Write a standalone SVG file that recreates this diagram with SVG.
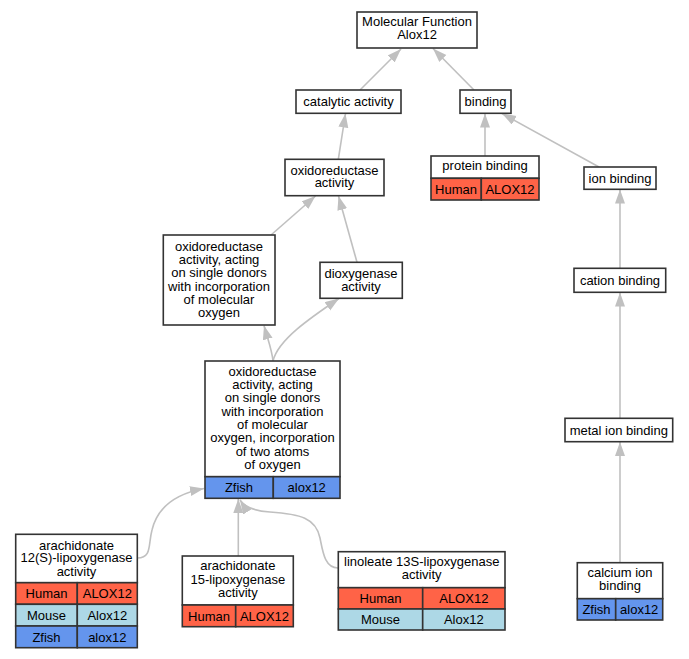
<svg xmlns="http://www.w3.org/2000/svg" width="689" height="659" viewBox="0 0 689 659">
<style>
text{font-family:"Liberation Sans",Arial,sans-serif;font-size:13px;fill:#000;text-anchor:middle}
.b{fill:#fff;stroke:#333;stroke-width:1.6}
.h{fill:#ff6347;stroke:#333;stroke-width:1.6}
.m{fill:#add8e6;stroke:#333;stroke-width:1.6}
.z{fill:#6495ed;stroke:#333;stroke-width:1.6}
.e{fill:none;stroke:#c0c0c0;stroke-width:1.6;marker-end:url(#ah)}
</style>
<defs>
<marker id="ah" markerUnits="userSpaceOnUse" markerWidth="15" markerHeight="11" refX="14" refY="5" orient="auto" viewBox="0 0 15 11">
<path d="M0,0 L14,5 L0,10 z" fill="#c0c0c0"/>
</marker>
</defs>
<rect width="689" height="659" fill="#fff"/>
<g id="edges">
<path class="e" d="M360,90 L401,49"/>
<path class="e" d="M474,90 L433,48.5"/>
<path class="e" d="M338.3,159.3 L345.5,113.5"/>
<path class="e" d="M485,156 L485,113.5"/>
<path class="e" d="M599,167 L502,113.5"/>
<path class="e" d="M620,268 L620,189.5"/>
<path class="e" d="M620,418 L620,292.5"/>
<path class="e" d="M620,562.7 L620,442"/>
<path class="e" d="M271,235 L315.5,196"/>
<path class="e" d="M357,262.3 L338.5,196"/>
<path class="e" d="M273,361 C272,350 268,340 264,325.5"/>
<path class="e" d="M273,361 C278,340 310,318 339,298.5"/>
<path class="e" d="M137.5,558 C152,558 148,545 152,530 C158,505 180,493 204,488.5"/>
<path class="e" d="M238.3,556 L238.3,499"/>
<path class="e" d="M338,568 C325,568 323,553 320,538 C316,518 300,514 270,512 C255,511 245,508 240,500"/>
</g>
<g id="mf">
<rect class="b" x="357" y="12" width="120" height="36"/>
<text x="417" y="26">Molecular Function</text>
<text x="417" y="39">Alox12</text>
</g>
<g id="catalytic">
<rect class="b" x="296" y="90" width="105" height="23.3"/>
<text x="348.5" y="106">catalytic activity</text>
</g>
<g id="binding">
<rect class="b" x="460" y="90" width="51" height="23.3"/>
<text x="485.5" y="106">binding</text>
</g>
<g id="protein">
<rect class="b" x="431" y="156" width="108" height="22.3"/>
<text x="485" y="170">protein binding</text>
<rect class="h" x="431" y="178.3" width="50.3" height="21.7"/>
<rect class="h" x="481.3" y="178.3" width="57.7" height="21.7"/>
<text x="456" y="193.5">Human</text>
<text x="510" y="193.5">ALOX12</text>
</g>
<g id="ion">
<rect class="b" x="584" y="167" width="72" height="22.3"/>
<text x="620" y="182.5">ion binding</text>
</g>
<g id="oxidoreductase">
<rect class="b" x="285" y="159.3" width="99" height="36.4"/>
<text x="334.5" y="174.5">oxidoreductase</text>
<text x="334.5" y="187">activity</text>
</g>
<g id="acting">
<rect class="b" x="163.3" y="235" width="111.7" height="90"/>
<text x="219" y="250.5">oxidoreductase</text>
<text x="219" y="264">activity, acting</text>
<text x="219" y="277">on single donors</text>
<text x="219" y="290.5">with incorporation</text>
<text x="219" y="304">of molecular</text>
<text x="219" y="317">oxygen</text>
</g>
<g id="dioxygenase">
<rect class="b" x="320" y="262.3" width="82.3" height="36"/>
<text x="361" y="278">dioxygenase</text>
<text x="361" y="290.5">activity</text>
</g>
<g id="cation">
<rect class="b" x="574" y="268.3" width="91.7" height="24"/>
<text x="620" y="284.5">cation binding</text>
</g>
<g id="metal">
<rect class="b" x="565" y="418.3" width="107.7" height="23.4"/>
<text x="618.8" y="434.5">metal ion binding</text>
</g>
<g id="twoatoms">
<rect class="b" x="205" y="361" width="135" height="115.7"/>
<text x="272.5" y="375.5">oxidoreductase</text>
<text x="272.5" y="389">activity, acting</text>
<text x="272.5" y="402">on single donors</text>
<text x="272.5" y="415.5">with incorporation</text>
<text x="272.5" y="429">of molecular</text>
<text x="272.5" y="442">oxygen, incorporation</text>
<text x="272.5" y="455.5">of two atoms</text>
<text x="272.5" y="469">of oxygen</text>
<rect class="z" x="205" y="476.7" width="68.3" height="21.6"/>
<rect class="z" x="273.3" y="476.7" width="66.7" height="21.6"/>
<text x="239" y="492">Zfish</text>
<text x="306.7" y="492">alox12</text>
</g>
<g id="ara12">
<rect class="b" x="15.7" y="534.3" width="121.6" height="48.4"/>
<text x="76.5" y="549.5">arachidonate</text>
<text x="76.5" y="562">12(S)-lipoxygenase</text>
<text x="76.5" y="575.5">activity</text>
<rect class="h" x="15.7" y="582.7" width="61.6" height="21.6"/>
<rect class="h" x="77.3" y="582.7" width="60" height="21.6"/>
<text x="46.5" y="598">Human</text>
<text x="107.3" y="598">ALOX12</text>
<rect class="m" x="15.7" y="604.3" width="61.6" height="21.7"/>
<rect class="m" x="77.3" y="604.3" width="60" height="21.7"/>
<text x="46.5" y="619.5">Mouse</text>
<text x="107.3" y="619.5">Alox12</text>
<rect class="z" x="15.7" y="626" width="61.6" height="21.7"/>
<rect class="z" x="77.3" y="626" width="60" height="21.7"/>
<text x="46.5" y="641.5">Zfish</text>
<text x="107.3" y="641.5">alox12</text>
</g>
<g id="ara15">
<rect class="b" x="182.3" y="556" width="111" height="49"/>
<text x="237.8" y="570">arachidonate</text>
<text x="237.8" y="583.5">15-lipoxygenase</text>
<text x="237.8" y="597">activity</text>
<rect class="h" x="182.3" y="605" width="53.4" height="21.7"/>
<rect class="h" x="235.7" y="605" width="57.6" height="21.7"/>
<text x="209" y="620.5">Human</text>
<text x="264.5" y="620.5">ALOX12</text>
</g>
<g id="linoleate">
<rect class="b" x="338.3" y="551.7" width="166.7" height="36"/>
<text x="421.7" y="566">linoleate 13S-lipoxygenase</text>
<text x="421.7" y="579">activity</text>
<rect class="h" x="338.3" y="587.7" width="84.4" height="21.3"/>
<rect class="h" x="422.7" y="587.7" width="82.3" height="21.3"/>
<text x="380.5" y="603">Human</text>
<text x="463.8" y="603">ALOX12</text>
<rect class="m" x="338.3" y="609" width="84.4" height="21"/>
<rect class="m" x="422.7" y="609" width="82.3" height="21"/>
<text x="380.5" y="624">Mouse</text>
<text x="463.8" y="624">Alox12</text>
</g>
<g id="calcium">
<rect class="b" x="577.3" y="562.7" width="85.4" height="36"/>
<text x="620" y="577">calcium ion</text>
<text x="620" y="590">binding</text>
<rect class="z" x="577.3" y="598.7" width="38.4" height="21.3"/>
<rect class="z" x="615.7" y="598.7" width="47" height="21.3"/>
<text x="596.5" y="614">Zfish</text>
<text x="639.2" y="614">alox12</text>
</g>
</svg>
